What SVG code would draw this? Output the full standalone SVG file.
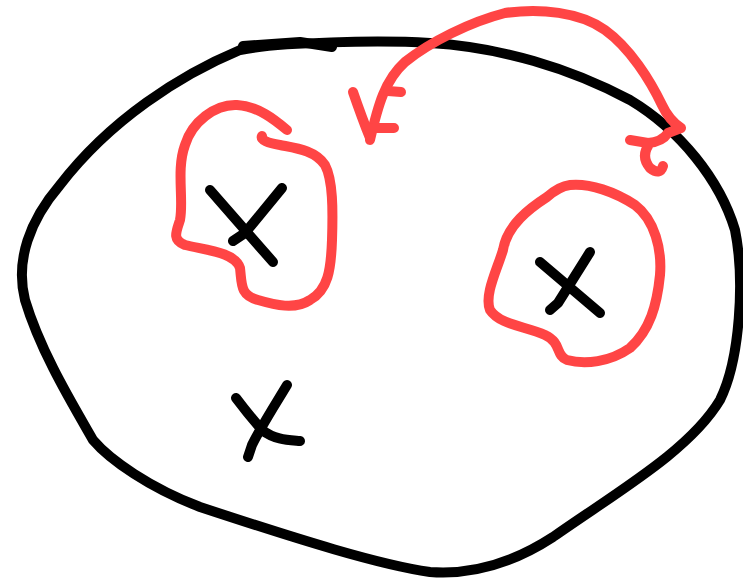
<svg xmlns="http://www.w3.org/2000/svg" width="743" height="582" viewBox="0 0 743 582">
<style>
.k{fill:none;stroke:#000;stroke-width:10;stroke-linecap:round;stroke-linejoin:round}
.r{fill:none;stroke:#ff4545;stroke-width:10;stroke-linecap:round;stroke-linejoin:round}
</style>
<rect width="743" height="582" fill="#fff"/>
<g id="outline">
<path class="k" d="M240,50 C280,42 380,40 430,43 C500,47 570,68 630,100 C680,130 720,180 735,230 C745,280 740,360 720,400 C690,450 620,490 553,537 C510,565 470,575 430,572 C380,565 300,540 200,507 C150,488 110,460 93,440 C70,400 40,350 25,300 C15,260 30,220 60,185 C110,120 180,75 240,50 Z"/>
<path class="k" d="M243,46 L300,42 L332,47"/>
</g>
<g id="region-left">
<path class="r" d="M287,130 C275,120 258,106 237,105 C215,104 192,122 185,145 C176,170 184,200 180,220 C176,232 172,240 185,245 C205,250 235,252 240,268 C242,285 240,295 258,300 C275,305 295,310 310,300 C328,290 331,270 332,240 C333,210 333,180 325,165 C315,150 295,148 280,145 C268,143 260,140 262,136"/>
<path class="k" d="M210,190 L273,262 M282,188 L245,233 L233,241"/>
</g>
<g id="region-right">
<path class="r" d="M570,185 C590,183 615,192 635,205 C655,220 662,250 660,275 C657,305 650,330 630,348 C610,362 585,365 567,360 C555,355 562,343 545,335 C525,326 500,325 490,310 C484,295 497,270 503,250 C507,225 530,208 547,197 C555,190 562,186 570,185 Z"/>
<path class="k" d="M540,262 L600,313 M590,252 L558,303 L550,310"/>
</g>
<g id="point-bottom">
<path class="k" d="M236,398 C245,410 255,422 262,430 C275,440 288,440 300,441 M287,385 C275,405 262,425 252,445 L248,457"/>
</g>
<g id="connectors">
<path class="r" d="M370,140 C378,105 385,80 405,62 C430,42 470,22 505,13 C540,8 580,12 605,30 C630,48 650,80 662,105 C668,118 675,124 681,128 L668,133 Q662,142 648,143 L630,140 M650,143 Q640,156 650,168 Q660,176 663,166"/>
<path class="r" d="M353,92 Q362,118 370,138 M388,91 L401,92 M373,128 L394,128"/>
</g>
</svg>
